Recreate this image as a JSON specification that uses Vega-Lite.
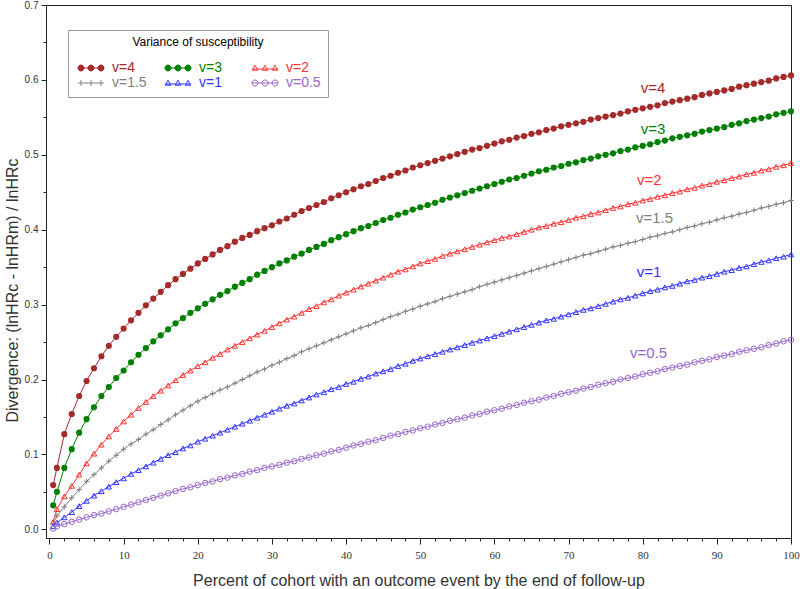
{
"$schema": "https://vega.github.io/schema/vega-lite/v6.json",
"width": 745, "height": 533,
"autosize": {"type": "none"},
"padding": {"left": 46, "top": 5, "right": 9, "bottom": 51},
"background": "white",
"config": {"view": {"stroke": "#222", "strokeWidth": 1}, "font": "Liberation Sans"},
"datasets": {
"curves": [
{"x":0.5,"v4":0.059,"v3":0.032,"v2":0.010,"v15":0.008,"v1":0.004,"v05":0.001},
{"x":1,"v4":0.082,"v3":0.050,"v2":0.027,"v15":0.018,"v1":0.009,"v05":0.004},
{"x":2,"v4":0.127,"v3":0.082,"v2":0.044,"v15":0.030,"v1":0.016,"v05":0.007},
{"x":3,"v4":0.154,"v3":0.107,"v2":0.058,"v15":0.042,"v1":0.023,"v05":0.010},
{"x":4,"v4":0.178,"v3":0.129,"v2":0.073,"v15":0.053,"v1":0.031,"v05":0.013},
{"x":5,"v4":0.198,"v3":0.147,"v2":0.088,"v15":0.064,"v1":0.038,"v05":0.016},
{"x":6,"v4":0.215,"v3":0.163,"v2":0.101,"v15":0.073,"v1":0.045,"v05":0.019},
{"x":7,"v4":0.231,"v3":0.178,"v2":0.113,"v15":0.082,"v1":0.051,"v05":0.021},
{"x":8,"v4":0.245,"v3":0.190,"v2":0.124,"v15":0.091,"v1":0.057,"v05":0.024},
{"x":9,"v4":0.257,"v3":0.202,"v2":0.134,"v15":0.099,"v1":0.063,"v05":0.027},
{"x":10,"v4":0.268,"v3":0.212,"v2":0.144,"v15":0.107,"v1":0.068,"v05":0.030},
{"x":11,"v4":0.279,"v3":0.223,"v2":0.153,"v15":0.114,"v1":0.074,"v05":0.033},
{"x":12,"v4":0.289,"v3":0.233,"v2":0.162,"v15":0.120,"v1":0.079,"v05":0.036},
{"x":13,"v4":0.299,"v3":0.242,"v2":0.170,"v15":0.127,"v1":0.084,"v05":0.039},
{"x":14,"v4":0.308,"v3":0.251,"v2":0.178,"v15":0.133,"v1":0.089,"v05":0.042},
{"x":15,"v4":0.317,"v3":0.259,"v2":0.185,"v15":0.140,"v1":0.094,"v05":0.045},
{"x":16,"v4":0.326,"v3":0.267,"v2":0.192,"v15":0.146,"v1":0.099,"v05":0.048},
{"x":17,"v4":0.334,"v3":0.275,"v2":0.199,"v15":0.153,"v1":0.103,"v05":0.051},
{"x":18,"v4":0.341,"v3":0.282,"v2":0.206,"v15":0.159,"v1":0.108,"v05":0.054},
{"x":19,"v4":0.348,"v3":0.289,"v2":0.212,"v15":0.165,"v1":0.112,"v05":0.056},
{"x":20,"v4":0.355,"v3":0.295,"v2":0.218,"v15":0.171,"v1":0.117,"v05":0.059},
{"x":21,"v4":0.361,"v3":0.301,"v2":0.223,"v15":0.176,"v1":0.121,"v05":0.062},
{"x":22,"v4":0.367,"v3":0.307,"v2":0.229,"v15":0.181,"v1":0.125,"v05":0.064},
{"x":23,"v4":0.373,"v3":0.313,"v2":0.234,"v15":0.186,"v1":0.129,"v05":0.067},
{"x":24,"v4":0.378,"v3":0.318,"v2":0.240,"v15":0.190,"v1":0.133,"v05":0.069},
{"x":25,"v4":0.384,"v3":0.324,"v2":0.245,"v15":0.195,"v1":0.137,"v05":0.072},
{"x":26,"v4":0.389,"v3":0.329,"v2":0.250,"v15":0.200,"v1":0.141,"v05":0.074},
{"x":27,"v4":0.393,"v3":0.334,"v2":0.255,"v15":0.205,"v1":0.145,"v05":0.077},
{"x":28,"v4":0.398,"v3":0.340,"v2":0.260,"v15":0.210,"v1":0.149,"v05":0.079},
{"x":29,"v4":0.402,"v3":0.345,"v2":0.265,"v15":0.214,"v1":0.153,"v05":0.082},
{"x":30,"v4":0.406,"v3":0.350,"v2":0.270,"v15":0.219,"v1":0.157,"v05":0.084},
{"x":31,"v4":0.411,"v3":0.355,"v2":0.275,"v15":0.223,"v1":0.161,"v05":0.086},
{"x":32,"v4":0.415,"v3":0.359,"v2":0.280,"v15":0.228,"v1":0.165,"v05":0.089},
{"x":33,"v4":0.420,"v3":0.364,"v2":0.284,"v15":0.232,"v1":0.168,"v05":0.091},
{"x":34,"v4":0.425,"v3":0.368,"v2":0.289,"v15":0.237,"v1":0.172,"v05":0.094},
{"x":35,"v4":0.429,"v3":0.373,"v2":0.294,"v15":0.241,"v1":0.176,"v05":0.096},
{"x":36,"v4":0.433,"v3":0.377,"v2":0.298,"v15":0.245,"v1":0.180,"v05":0.099},
{"x":37,"v4":0.437,"v3":0.381,"v2":0.303,"v15":0.249,"v1":0.183,"v05":0.101},
{"x":38,"v4":0.442,"v3":0.386,"v2":0.307,"v15":0.253,"v1":0.187,"v05":0.104},
{"x":39,"v4":0.446,"v3":0.390,"v2":0.312,"v15":0.257,"v1":0.190,"v05":0.106},
{"x":40,"v4":0.450,"v3":0.394,"v2":0.316,"v15":0.261,"v1":0.194,"v05":0.109},
{"x":41,"v4":0.454,"v3":0.398,"v2":0.320,"v15":0.265,"v1":0.197,"v05":0.112},
{"x":42,"v4":0.458,"v3":0.402,"v2":0.324,"v15":0.269,"v1":0.201,"v05":0.114},
{"x":43,"v4":0.461,"v3":0.405,"v2":0.328,"v15":0.272,"v1":0.204,"v05":0.117},
{"x":44,"v4":0.465,"v3":0.409,"v2":0.332,"v15":0.276,"v1":0.208,"v05":0.119},
{"x":45,"v4":0.469,"v3":0.413,"v2":0.336,"v15":0.280,"v1":0.211,"v05":0.122},
{"x":46,"v4":0.472,"v3":0.416,"v2":0.340,"v15":0.284,"v1":0.214,"v05":0.125},
{"x":47,"v4":0.476,"v3":0.420,"v2":0.344,"v15":0.287,"v1":0.218,"v05":0.127},
{"x":48,"v4":0.479,"v3":0.423,"v2":0.347,"v15":0.291,"v1":0.221,"v05":0.130},
{"x":49,"v4":0.483,"v3":0.427,"v2":0.351,"v15":0.294,"v1":0.225,"v05":0.132},
{"x":50,"v4":0.486,"v3":0.430,"v2":0.355,"v15":0.298,"v1":0.228,"v05":0.135},
{"x":51,"v4":0.489,"v3":0.433,"v2":0.358,"v15":0.301,"v1":0.231,"v05":0.137},
{"x":52,"v4":0.492,"v3":0.436,"v2":0.361,"v15":0.304,"v1":0.234,"v05":0.140},
{"x":53,"v4":0.495,"v3":0.440,"v2":0.365,"v15":0.308,"v1":0.237,"v05":0.142},
{"x":54,"v4":0.498,"v3":0.443,"v2":0.368,"v15":0.311,"v1":0.240,"v05":0.145},
{"x":55,"v4":0.501,"v3":0.446,"v2":0.371,"v15":0.314,"v1":0.243,"v05":0.147},
{"x":56,"v4":0.504,"v3":0.449,"v2":0.374,"v15":0.317,"v1":0.246,"v05":0.149},
{"x":57,"v4":0.507,"v3":0.452,"v2":0.377,"v15":0.320,"v1":0.249,"v05":0.152},
{"x":58,"v4":0.509,"v3":0.455,"v2":0.380,"v15":0.324,"v1":0.252,"v05":0.154},
{"x":59,"v4":0.512,"v3":0.458,"v2":0.383,"v15":0.327,"v1":0.255,"v05":0.157},
{"x":60,"v4":0.515,"v3":0.461,"v2":0.386,"v15":0.330,"v1":0.258,"v05":0.159},
{"x":61,"v4":0.518,"v3":0.464,"v2":0.389,"v15":0.333,"v1":0.261,"v05":0.161},
{"x":62,"v4":0.520,"v3":0.467,"v2":0.391,"v15":0.336,"v1":0.264,"v05":0.164},
{"x":63,"v4":0.523,"v3":0.469,"v2":0.394,"v15":0.339,"v1":0.267,"v05":0.166},
{"x":64,"v4":0.525,"v3":0.472,"v2":0.397,"v15":0.342,"v1":0.270,"v05":0.169},
{"x":65,"v4":0.528,"v3":0.475,"v2":0.400,"v15":0.345,"v1":0.273,"v05":0.171},
{"x":66,"v4":0.530,"v3":0.478,"v2":0.403,"v15":0.348,"v1":0.276,"v05":0.173},
{"x":67,"v4":0.533,"v3":0.480,"v2":0.405,"v15":0.351,"v1":0.279,"v05":0.176},
{"x":68,"v4":0.535,"v3":0.483,"v2":0.408,"v15":0.354,"v1":0.281,"v05":0.178},
{"x":69,"v4":0.538,"v3":0.485,"v2":0.410,"v15":0.357,"v1":0.284,"v05":0.181},
{"x":70,"v4":0.540,"v3":0.488,"v2":0.413,"v15":0.360,"v1":0.287,"v05":0.183},
{"x":71,"v4":0.542,"v3":0.490,"v2":0.416,"v15":0.363,"v1":0.290,"v05":0.185},
{"x":72,"v4":0.544,"v3":0.493,"v2":0.418,"v15":0.366,"v1":0.293,"v05":0.188},
{"x":73,"v4":0.547,"v3":0.495,"v2":0.421,"v15":0.368,"v1":0.295,"v05":0.190},
{"x":74,"v4":0.549,"v3":0.498,"v2":0.423,"v15":0.371,"v1":0.298,"v05":0.193},
{"x":75,"v4":0.551,"v3":0.500,"v2":0.426,"v15":0.374,"v1":0.301,"v05":0.195},
{"x":76,"v4":0.553,"v3":0.502,"v2":0.429,"v15":0.377,"v1":0.304,"v05":0.197},
{"x":77,"v4":0.555,"v3":0.505,"v2":0.431,"v15":0.379,"v1":0.307,"v05":0.200},
{"x":78,"v4":0.558,"v3":0.507,"v2":0.434,"v15":0.382,"v1":0.309,"v05":0.202},
{"x":79,"v4":0.560,"v3":0.510,"v2":0.436,"v15":0.384,"v1":0.312,"v05":0.204},
{"x":80,"v4":0.562,"v3":0.512,"v2":0.439,"v15":0.387,"v1":0.315,"v05":0.207},
{"x":81,"v4":0.564,"v3":0.514,"v2":0.441,"v15":0.390,"v1":0.318,"v05":0.209},
{"x":82,"v4":0.566,"v3":0.517,"v2":0.444,"v15":0.392,"v1":0.320,"v05":0.211},
{"x":83,"v4":0.569,"v3":0.519,"v2":0.446,"v15":0.395,"v1":0.323,"v05":0.214},
{"x":84,"v4":0.571,"v3":0.522,"v2":0.449,"v15":0.397,"v1":0.325,"v05":0.216},
{"x":85,"v4":0.573,"v3":0.524,"v2":0.451,"v15":0.400,"v1":0.328,"v05":0.218},
{"x":86,"v4":0.575,"v3":0.526,"v2":0.454,"v15":0.403,"v1":0.331,"v05":0.220},
{"x":87,"v4":0.577,"v3":0.528,"v2":0.456,"v15":0.405,"v1":0.333,"v05":0.223},
{"x":88,"v4":0.580,"v3":0.531,"v2":0.459,"v15":0.408,"v1":0.336,"v05":0.225},
{"x":89,"v4":0.582,"v3":0.533,"v2":0.461,"v15":0.410,"v1":0.338,"v05":0.227},
{"x":90,"v4":0.584,"v3":0.535,"v2":0.464,"v15":0.413,"v1":0.341,"v05":0.230},
{"x":91,"v4":0.586,"v3":0.537,"v2":0.466,"v15":0.416,"v1":0.344,"v05":0.232},
{"x":92,"v4":0.588,"v3":0.540,"v2":0.469,"v15":0.418,"v1":0.346,"v05":0.234},
{"x":93,"v4":0.591,"v3":0.542,"v2":0.471,"v15":0.421,"v1":0.349,"v05":0.237},
{"x":94,"v4":0.593,"v3":0.545,"v2":0.474,"v15":0.423,"v1":0.351,"v05":0.239},
{"x":95,"v4":0.595,"v3":0.547,"v2":0.476,"v15":0.426,"v1":0.354,"v05":0.241},
{"x":96,"v4":0.597,"v3":0.549,"v2":0.479,"v15":0.429,"v1":0.357,"v05":0.243},
{"x":97,"v4":0.599,"v3":0.551,"v2":0.481,"v15":0.431,"v1":0.359,"v05":0.246},
{"x":98,"v4":0.602,"v3":0.554,"v2":0.484,"v15":0.434,"v1":0.362,"v05":0.248},
{"x":99,"v4":0.604,"v3":0.556,"v2":0.486,"v15":0.436,"v1":0.364,"v05":0.251},
{"x":100,"v4":0.606,"v3":0.558,"v2":0.489,"v15":0.439,"v1":0.367,"v05":0.253}
],
"labels": [
{"s":"v4","t":"v=4","x":81.4,"y":0.589},
{"s":"v3","t":"v=3","x":81.4,"y":0.535},
{"s":"v2","t":"v=2","x":80.9,"y":0.466},
{"s":"v15","t":"v=1.5","x":81.6,"y":0.416},
{"s":"v1","t":"v=1","x":80.85,"y":0.344},
{"s":"v05","t":"v=0.5","x":80.8,"y":0.235}
]
},
"layer": [
{
"data": {"name": "curves"},
"transform": [{"fold": ["v4","v3","v2","v15","v1","v05"], "as": ["s","y"]}],
"mark": {"type": "line", "strokeWidth": 1},
"encoding": {
"x": {"field": "x", "type": "quantitative", "scale": {"domain": [-0.47, 100], "nice": false, "zero": false},
 "axis": {"values": [0,10,20,30,40,50,60,70,80,90,100], "title": "Percent of cohort with an outcome event by the end of follow-up", "grid": false, "tickSize": 6, "tickColor": "#222", "domainColor": "#222", "labelFont": "Liberation Sans Narrow", "labelFontSize": 11, "labelColor": "#333", "labelPadding": 5, "labelFlush": false, "labelOverlap": false, "titleFont": "Liberation Sans", "titleFontSize": 16, "titleFontWeight": "normal", "titleColor": "#333", "titlePadding": 12}},
"y": {"field": "y", "type": "quantitative", "scale": {"domain": [-0.0116, 0.7], "nice": false, "zero": false},
 "axis": {"values": [0,0.1,0.2,0.3,0.4,0.5,0.6,0.7], "format": ".1f", "title": "Divergence: (lnHRc - lnHRm) / lnHRc", "grid": false, "tickSize": 5, "tickColor": "#222", "domainColor": "#222", "labelFont": "Liberation Sans", "labelFontSize": 10, "labelColor": "#333", "labelPadding": 3, "labelFlush": false, "labelOverlap": false, "titleFont": "Liberation Sans", "titleFontSize": 16, "titleFontWeight": "normal", "titleColor": "#333", "titleX": -34, "titleY": 285, "titleAlign": "center", "titleBaseline": "middle"}},
"color": {"field": "s", "type": "nominal",
 "scale": {"domain": ["v4","v3","v2","v15","v1","v05"], "range": ["#a52a2a","#008000","#ff3333","#808080","#3333ff","#9966cc"]},
 "legend": {
  "title": "Variance of susceptibility", "orient": "none", "legendX": 22, "legendY": 25,
  "columns": 3, "direction": "horizontal", "gridAlign": "all", "padding": 7, "strokeColor": "#999999", "fillColor": "white",
  "titleFont": "Liberation Sans", "titleFontSize": 12, "titleFontWeight": "normal", "titleColor": "black", "titleAnchor": "middle", "titlePadding": 12,
  "labelFont": "Liberation Sans", "labelFontSize": 14,
  "labelExpr": "datum.value=='v4' ? 'v=4' : datum.value=='v3' ? 'v=3' : datum.value=='v2' ? 'v=2' : datum.value=='v15' ? 'v=1.5' : datum.value=='v1' ? 'v=1' : 'v=0.5'",
  "symbolSize": 100, "symbolOffset": 9, "labelOffset": 14, "columnPadding": 15, "rowPadding": 1,
  "encode": {
   "labels": {"update": {"fill": {"scale": "color", "field": "value"}}},
   "symbols": {"update": {
     "shape": {"signal": "datum.value=='v4'||datum.value=='v3'||datum.value=='v05' ? 'M-2.6,0H2.6M-2.6,0a0.6,0.6 0 1,0 1.2,0a0.6,0.6 0 1,0 -1.2,0M-0.6,0a0.6,0.6 0 1,0 1.2,0a0.6,0.6 0 1,0 -1.2,0M1.4,0a0.6,0.6 0 1,0 1.2,0a0.6,0.6 0 1,0 -1.2,0' : datum.value=='v15' ? 'M-2.6,0H2.6M-2,-0.6V0.6M0,-0.6V0.6M2,-0.6V0.6' : 'M-2.6,0.2H2.6M-2,-0.55L-1.45,0.45L-2.55,0.45ZM0,-0.55L0.55,0.45L-0.55,0.45ZM2,-0.55L2.55,0.45L1.45,0.45Z'"},
     "fill": {"signal": "datum.value=='v4' ? '#a52a2a' : datum.value=='v3' ? '#008000' : 'white'"},
     "fillOpacity": {"signal": "datum.value=='v4'||datum.value=='v3' ? 1 : 0"},
     "stroke": {"scale": "color", "field": "value"},
     "strokeWidth": {"value": 1},
     "opacity": {"value": 1}
   }}
  }
 }}
}
},
{
"data": {"name": "curves"},
"transform": [{"fold": ["v4","v3","v2","v15","v1","v05"], "as": ["s","y"]}, {"filter": {"field": "s", "oneOf": ["v4","v3"]}}],
"mark": {"type": "point", "shape": "circle", "filled": true, "opacity": 1, "size": 38},
"encoding": {
"x": {"field": "x", "type": "quantitative", "scale": {"domain": [-0.47, 100], "nice": false, "zero": false}, "axis": null},
"y": {"field": "y", "type": "quantitative", "scale": {"domain": [-0.0116, 0.7], "nice": false, "zero": false}, "axis": null},
"color": {"field": "s", "type": "nominal"}
}
},
{
"data": {"name": "curves"},
"transform": [{"fold": ["v4","v3","v2","v15","v1","v05"], "as": ["s","y"]}, {"filter": {"field": "s", "oneOf": ["v2","v15","v1","v05"]}}],
"mark": {"type": "point", "filled": false, "opacity": 1, "strokeWidth": 1, "size": 30},
"encoding": {
"x": {"field": "x", "type": "quantitative", "scale": {"domain": [-0.47, 100], "nice": false, "zero": false}, "axis": null},
"y": {"field": "y", "type": "quantitative", "scale": {"domain": [-0.0116, 0.7], "nice": false, "zero": false}, "axis": null},
"color": {"field": "s", "type": "nominal"},
"shape": {"field": "s", "type": "nominal", "scale": {"domain": ["v2","v15","v1","v05"], "range": ["triangle-up","M-1,0H1M0,-1V1","triangle-up","circle"]}, "legend": null}
}
},
{
"data": {"name": "labels"},
"mark": {"type": "text", "fontSize": 15, "font": "Liberation Sans", "align": "center", "baseline": "middle"},
"encoding": {
"x": {"field": "x", "type": "quantitative", "scale": {"domain": [-0.47, 100], "nice": false, "zero": false},
 "axis": {"values": [2,4,6,8,12,14,16,18,22,24,26,28,32,34,36,38,42,44,46,48,52,54,56,58,62,64,66,68,72,74,76,78,82,84,86,88,92,94,96,98], "labels": false, "domain": false, "grid": false, "tickSize": 3, "tickColor": "#222", "title": null, "orient": "bottom"}},
"y": {"field": "y", "type": "quantitative", "scale": {"domain": [-0.0116, 0.7], "nice": false, "zero": false},
 "axis": {"values": [0.05,0.15,0.25,0.35,0.45,0.55,0.65], "labels": false, "domain": false, "grid": false, "tickSize": 3, "tickColor": "#222", "title": null, "orient": "left"}},
"text": {"field": "t"},
"color": {"field": "s", "type": "nominal"}
}
}
],
"resolve": {"axis": {"x": "independent", "y": "independent"}}
}
